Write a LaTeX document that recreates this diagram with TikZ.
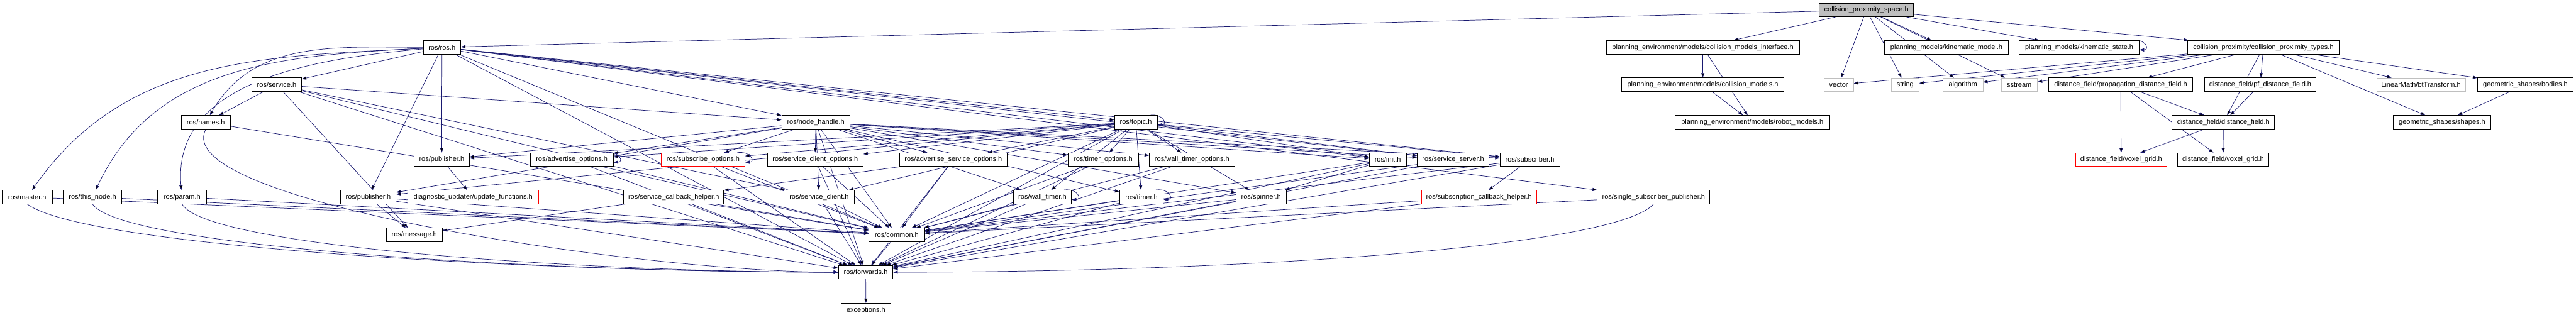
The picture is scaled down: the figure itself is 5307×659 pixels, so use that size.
\documentclass[tikz,border=0pt]{standalone}
\usepackage{fontspec}
\setmainfont{Liberation Sans}
\usetikzlibrary{positioning,arrows.meta,backgrounds}
\definecolor{EdgeBlue}{RGB}{25,25,112}
\definecolor{StubGray}{RGB}{191,191,191}
\definecolor{MissRed}{RGB}{255,0,0}

\tikzset{
  hdr/.style={draw=black, line width=0.8pt, fill=white, minimum height=21pt, inner sep=0pt,
    font=\fontsize{10.7}{12}\selectfont},
  hdrred/.style={hdr, draw=MissRed, line width=0.6pt},
  hdrsys/.style={hdr, draw=StubGray, line width=0.6pt},
  hdrtop/.style={hdr, fill=StubGray},
  boxw/.style={minimum width=#1*0.75pt},
  dep/.style={draw=EdgeBlue, line width=0.7pt, -{Triangle[length=7pt,width=5pt]}},
}
\newcommand{\selfdep}[1]{\draw[dep] ([xshift=-12pt]#1.north east) .. controls +(28,-4) and +(22,0) .. ([yshift=-4pt]#1.east);}

\begin{document}
\begin{tikzpicture}[x=0.75pt, y=-0.75pt]
  \useasboundingbox (0,0) rectangle (5307,659);

  % row 0 and 1
  \node[hdrtop, boxw=195] (cps) at (3845,20.5) {collision\_proximity\_space.h};
  \node[hdr, boxw=77] (rosros) at (910.5,97.5) {ros/ros.h};
  \node[hdr, boxw=398] (cmi) at (3508,97.5) {planning\_environment/models/collision\_models\_interface.h};
  \node[hdr, boxw=255] (kinmodel) at (4010,97.5) {planning\_models/kinematic\_model.h};
  \node[hdr, boxw=248] (kinstate) at (4283.5,97.5) {planning\_models/kinematic\_state.h};
  \node[hdr, boxw=312] (cptypes) at (4663,97.5) {collision\_proximity/collision\_proximity\_types.h};

  % row 2
  \node[hdr, boxw=102] (service) at (570,174.5) {ros/service.h};
  \node[hdr, boxw=334] (cmodels) at (3508,174.5) {planning\_environment/models/collision\_models.h};
  \node[hdrsys, boxw=61] (vector) at (3788,174.5) {vector};
  \node[hdrsys, boxw=57] (string) at (3925,174.5) {string};
  \node[hdrsys, boxw=82] (algorithm) at (4044,174.5) {algorithm};
  \node[hdrsys, boxw=75] (sstream) at (4160,174.5) {sstream};
  \node[hdr, boxw=296] (propdf) at (4369,174.5) {distance\_field/propagation\_distance\_field.h};
  \node[hdr, boxw=230] (pfdf) at (4656.5,174.5) {distance\_field/pf\_distance\_field.h};
  \node[hdrsys, boxw=183] (btt) at (4987.6,174.5) {LinearMath/btTransform.h};
  \node[hdr, boxw=197] (bodies) at (5202.7,174.5) {geometric\_shapes/bodies.h};

  % row 3
  \node[hdr, boxw=101] (names) at (424,252) {ros/names.h};
  \node[hdr, boxw=140] (nodehandle) at (1680.6,252) {ros/node\_handle.h};
  \node[hdr, boxw=88] (topic) at (2340,252) {ros/topic.h};
  \node[hdr, boxw=318] (robotmodels) at (3610,252) {planning\_environment/models/robot\_models.h};
  \node[hdr, boxw=211] (dfield) at (4580.5,252) {distance\_field/distance\_field.h};
  \node[hdr, boxw=201] (shapes) at (5031,252) {geometric\_shapes/shapes.h};

  % row 4
  \node[hdr, boxw=114] (pubA) at (910,329) {ros/publisher.h};
  \node[hdr, boxw=171] (advopt) at (1178,329) {ros/advertise\_options.h};
  \node[hdrred, boxw=172] (subopt) at (1448.5,329) {ros/subscribe\_options.h};
  \node[hdr, boxw=197] (scopt) at (1679.5,329) {ros/service\_client\_options.h};
  \node[hdr, boxw=222] (asopt) at (1964,329) {ros/advertise\_service\_options.h};
  \node[hdr, boxw=145] (timeropt) at (2272.5,329) {ros/timer\_options.h};
  \node[hdr, boxw=176] (wtopt) at (2455.7,329) {ros/wall\_timer\_options.h};
  \node[hdr, boxw=76] (init) at (2859,329) {ros/init.h};
  \node[hdr, boxw=148] (svcserver) at (2993.7,329) {ros/service\_server.h};
  \node[hdr, boxw=123] (subscriber) at (3151.7,329) {ros/subscriber.h};
  \node[hdrred, boxw=188] (vgred) at (4370,329) {distance\_field/voxel\_grid.h};
  \node[hdr, boxw=188] (vgblack) at (4580,329) {distance\_field/voxel\_grid.h};

  % row 5
  \node[hdr, boxw=103] (master) at (56,406) {ros/master.h};
  \node[hdr, boxw=120] (thisnode) at (190.5,406) {ros/this\_node.h};
  \node[hdr, boxw=100] (param) at (375,406) {ros/param.h};
  \node[hdr, boxw=115] (pubB) at (758.5,406) {ros/publisher.h};
  \node[hdrred, boxw=269] (diagupd) at (974.5,406) {diagnostic\_updater/update\_functions.h};
  \node[hdr, boxw=206] (svccb) at (1388,406) {ros/service\_callback\_helper.h};
  \node[hdr, boxw=144] (svcclient) at (1687.5,406) {ros/service\_client.h};
  \node[hdr, boxw=120] (walltimer) at (2147.5,406) {ros/wall\_timer.h};
  \node[hdr, boxw=90] (timer) at (2351.7,406) {ros/timer.h};
  \node[hdr, boxw=103] (spinner) at (2598,406) {ros/spinner.h};
  \node[hdrred, boxw=238] (subcb) at (3047,406) {ros/subscription\_callback\_helper.h};
  \node[hdr, boxw=232] (ssp) at (3406.7,406) {ros/single\_subscriber\_publisher.h};

  % rows 6 to 8
  \node[hdr, boxw=116] (message) at (853.5,484) {ros/message.h};
  \node[hdr, boxw=115] (common) at (1847.5,484) {ros/common.h};
  \node[hdr, boxw=112] (forwards) at (1783.5,561) {ros/forwards.h};
  \node[hdr, boxw=102] (exceptions) at (1784,639) {exceptions.h};

  \begin{scope}[on background layer]
    % planning side
    \path[dep] (cps) edge (rosros) edge (cmi) edge (vector) edge (string) edge (algorithm)
      edge (sstream) edge (kinmodel) edge (kinstate) edge (cptypes);
    \path[dep] (cmi) edge (cmodels) edge (robotmodels);
    \path[dep] (cmodels) edge (robotmodels);
    \path[dep] (cptypes) edge (vector) edge (string) edge (algorithm) edge (sstream) edge (propdf)
      edge (pfdf) edge (dfield) edge (btt) edge (bodies) edge (shapes);
    \path[dep] (propdf) edge (vgred) edge (vgblack) edge (dfield);
    \path[dep] (dfield) edge (vgred) edge (vgblack);
    \path[dep] (pfdf) edge (dfield);
    \path[dep] (bodies) edge (shapes);
    \selfdep{kinstate}

    % roscpp side
    \path[dep] (rosros) edge[out=183,in=55] (master) edge[out=183,in=65] (thisnode)
      edge[out=185,in=95] (param) edge[out=180,in=60] (names) edge (service)
      edge (pubA) edge (pubB) edge (nodehandle) edge (topic) edge (init) edge (svcserver)
      edge (subscriber) edge (ssp) edge (common) edge (forwards);
    \path[dep] (service) edge (names) edge (nodehandle) edge (svcclient) edge (message)
      edge (common) edge (forwards);
    \path[dep] (nodehandle) edge (pubA) edge (pubB) edge (advopt) edge (subopt) edge (scopt)
      edge (asopt) edge (timeropt) edge (wtopt) edge (svcclient) edge (walltimer) edge (timer)
      edge (spinner) edge (init) edge (svcserver) edge (subscriber) edge (common) edge (forwards);
    \path[dep] (topic) edge (pubA) edge (pubB) edge (advopt) edge (subopt) edge (scopt)
      edge (asopt) edge (timeropt) edge (wtopt) edge (svcclient) edge (walltimer) edge (timer)
      edge (spinner) edge (init) edge (svcserver) edge (subscriber) edge (common) edge (forwards);
    \path[dep] (pubA) edge (diagupd);
    \path[dep] (pubB) edge (message) edge (common) edge (forwards);
    \path[dep] (svccb) edge (message) edge (common) edge (forwards);
    \path[dep] (asopt) edge (svccb) edge (common) edge (forwards);
    \path[dep] (init) edge (spinner) edge (common) edge (forwards);
    \path[dep] (subscriber) edge (subcb) edge (common) edge (forwards);
    \path[dep] (names) edge (common);
    \path[dep] (master) edge (common);
    \path[dep] (thisnode) edge (common);
    \path[dep] (param) edge (common);
    % long sweeps along the bottom
    \draw[dep] (names.south) .. controls +(-80,150) and +(-400,0) .. (forwards.west);
    \draw[dep] (master.south) .. controls +(120,90) and +(-600,0) .. (forwards.west);
    \draw[dep] (thisnode.south) .. controls +(60,90) and +(-600,0) .. (forwards.west);
    \draw[dep] (param.south) .. controls +(50,90) and +(-500,0) .. (forwards.west);
    \draw[dep] (ssp.south) .. controls +(-80,90) and +(700,0) .. (forwards.east);
    \path[dep] (advopt) edge (common) edge (forwards);
    \path[dep] (subopt) edge (common) edge (forwards);
    \path[dep] (scopt) edge (common) edge (forwards);
    \path[dep] (timeropt) edge (common) edge (forwards);
    \path[dep] (wtopt) edge (common) edge (forwards);
    \path[dep] (svcclient) edge (common) edge (forwards);
    \path[dep] (walltimer) edge (common) edge (forwards);
    \path[dep] (timer) edge (common) edge (forwards);
    \path[dep] (spinner) edge (common) edge (forwards);
    \path[dep] (svcserver) edge (common) edge (forwards);
    \path[dep] (subcb) edge (common) edge (forwards);
    \path[dep] (ssp) edge (common);
    \path[dep] (common) edge (forwards);
    \path[dep] (forwards) edge (exceptions);
    \selfdep{topic}
    \selfdep{advopt}
    \selfdep{subopt}
    \selfdep{walltimer}
    \selfdep{timer}
  \end{scope}
\end{tikzpicture}
\end{document}
